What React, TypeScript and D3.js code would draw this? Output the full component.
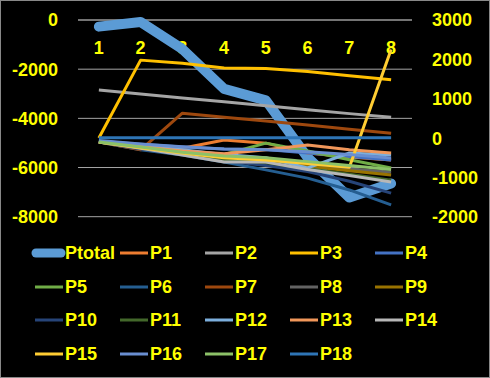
import React from "react";
import * as d3 from "d3";

const categories = ["1", "2", "3", "4", "5", "6", "7", "8"];
const leftTicks = [0, -2000, -4000, -6000, -8000];
const rightTicks = [3000, 2000, 1000, 0, -1000, -2000];

const ptotal = [-270, -80, -1180, -2800, -3270, -5590, -7220, -6650];

const seriesNames = ["P1", "P2", "P3", "P4", "P5", "P6", "P7", "P8", "P9", "P10", "P11", "P12", "P13", "P14", "P15", "P16", "P17", "P18"];
const seriesColors = ["#ED7D31", "#A5A5A5", "#FFC000", "#4472C4", "#70AD47", "#255E91", "#9E480E", "#636363", "#997300", "#264478", "#43682B", "#7CAFDD", "#F1975A", "#B7B7B7", "#FFCD33", "#698ED0", "#8CC168", "#2E75B6"];

const p1 = [-100, -180, -260, -50, -130, -380, -480, -560];
const p2 = [1220, 1120, 1020, 920, 820, 720, 620, 525];
const p3 = [0, 1980, 1900, 1780, 1770, 1690, 1580, 1480];
const p4 = [-80, -160, -230, -280, -290, -380, -470, -560];
const p5 = [-100, -250, -370, -420, -130, -330, -550, -760];
const p6 = [-100, -300, -430, -610, -810, -1020, -1320, -1700];
const p7 = [-100, -300, 630, 530, 430, 330, 225, 120];
const p8 = [-100, -240, -380, -520, -560, -680, -780, -870];
const p9 = [-100, -250, -390, -540, -580, -720, -830, -940];
const p10 = [-100, -280, -420, -580, -700, -850, -1100, -1400];
const p11 = [-100, -260, -400, -560, -620, -780, -920, -1070];
const p12 = [-80, -200, -300, -420, -500, -760, -380, -430];
const p13 = [-100, -220, -330, -400, -300, -180, -300, -380];
const p14 = [-100, -260, -430, -610, -610, -800, -950, -1120];
const p15 = [-100, -250, -380, -500, -560, -650, -740, 2250];
const p16 = [-60, -150, -220, -280, -300, -350, -420, -510];
const p17 = [-100, -230, -360, -460, -500, -600, -700, -800];
const p18 = [10, 10, 10, 10, 10, 10, 10, 10];

const seriesValues = [p1, p2, p3, p4, p5, p6, p7, p8, p9, p10, p11, p12, p13, p14, p15, p16, p17, p18];

const W = 490;
const H = 378;
const plotLeft = 78;
const plotRight = 412;
const plotTop = 20;
const plotBottom = 216.7;
const font = "'Liberation Sans', Arial, sans-serif";
const yellow = "#FFFF00";

export default function App() {
  const x = d3.scaleBand<string>().domain(categories).range([plotLeft, plotRight]);
  const xc = (i: number) => (x(categories[i]) as number) + x.bandwidth() / 2;
  const yL = d3.scaleLinear().domain([-8000, 0]).range([plotBottom, plotTop]);
  const yR = d3.scaleLinear().domain([-2000, 3000]).range([plotBottom, plotTop]);

  const lineL = d3.line<number>().x((_, i) => xc(i)).y((d) => yL(d));
  const lineR = d3.line<number>().x((_, i) => xc(i)).y((d) => yR(d));

  const legendItems = [{ name: "Ptotal", color: "#5B9BD5", thick: true }].concat(
    seriesNames.map((n, i) => ({ name: n, color: seriesColors[i], thick: false }))
  );
  const colX = [35, 120, 205, 290, 375];
  const rowY = [253, 287, 320, 354];

  return (
    <div style={{ position: "fixed", left: 0, top: 0 }}>
      <svg width={W} height={H} style={{ display: "block", background: "#000" }}>
        <rect x={0.5} y={0.5} width={W - 1} height={H - 1} fill="#000" stroke="#888" strokeWidth={1} />
        {leftTicks.map((t) => (
          <line key={"g" + t} x1={plotLeft} x2={plotRight} y1={yL(t)} y2={yL(t)} stroke={t === 0 ? "#e8e8e8" : "#a6a6a6"} strokeWidth={1} />
        ))}
        {leftTicks.map((t) => (
          <text key={"l" + t} x={58} y={yL(t)} dy="0.36em" textAnchor="end" fill={yellow} fontFamily={font} fontWeight="bold" fontSize={18}>
            {t}
          </text>
        ))}
        {rightTicks.map((t) => (
          <text key={"r" + t} x={432} y={yR(t)} dy="0.36em" textAnchor="start" fill={yellow} fontFamily={font} fontWeight="bold" fontSize={18}>
            {t}
          </text>
        ))}
        {categories.map((c, i) => (
          <text key={"c" + c} x={xc(i)} y={48} dy="0.36em" textAnchor="middle" fill={yellow} fontFamily={font} fontWeight="bold" fontSize={18}>
            {c}
          </text>
        ))}
        <path d={lineL(ptotal) as string} fill="none" stroke="#5B9BD5" strokeWidth={10} strokeLinecap="round" strokeLinejoin="round" />
        {seriesValues.map((vals, i) => (
          <path key={"s" + i} d={lineR(vals) as string} fill="none" stroke={seriesColors[i]} strokeWidth={3} strokeLinejoin="round" />
        ))}
        {legendItems.map((it, k) => {
          const row = Math.floor(k / 5);
          const col = k % 5;
          const lx = colX[col];
          const ly = rowY[row];
          return (
            <g key={"lg" + k}>
              {it.thick ? (
                <line x1={36} x2={61} y1={ly} y2={ly} stroke={it.color} strokeWidth={9} strokeLinecap="round" />
              ) : (
                <line x1={lx} x2={lx + 28} y1={ly} y2={ly} stroke={it.color} strokeWidth={3} />
              )}
              <text x={it.thick ? 65 : lx + 30} y={ly} dy="0.36em" fill={yellow} fontFamily={font} fontWeight="bold" fontSize={18}>
                {it.name}
              </text>
            </g>
          );
        })}
      </svg>
    </div>
  );
}
